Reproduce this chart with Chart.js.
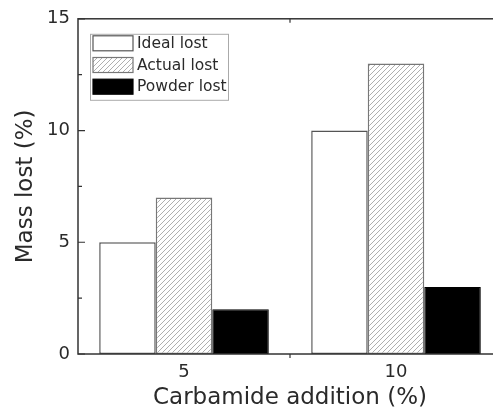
<!DOCTYPE html>
<html>
<head>
<meta charset="utf-8">
<script src="https://cdn.jsdelivr.net/npm/chart.js@4"></script>
<style>
html,body{margin:0;padding:0;background:#fff;overflow:hidden;width:493px;height:412px;}
canvas{display:block;}
</style>
</head>
<body>
<canvas id="c" width="506" height="412"></canvas>
<script>
const categories = ["5", "10"];
const idealLost = [5, 10];
const actualLost = [7, 13];
const powderLost = [2, 3];
const seriesNames = ["Ideal lost", "Actual lost", "Powder lost"];
const yMin = 0, yMax = 15, yStep = 2.5, yLabelStep = 5;
const xTitle = "Carbamide addition (%)";
const yTitle = "Mass lost (%)";

const FONT = "'DejaVu Sans', sans-serif";
const TEXT = '#2a2a2a';

function hatch() {
  const p = 5;
  const c = document.createElement('canvas');
  c.width = p; c.height = p;
  const g = c.getContext('2d');
  g.fillStyle = '#fff'; g.fillRect(0, 0, p, p);
  g.strokeStyle = '#a0a0a0'; g.lineWidth = 0.85;
  g.beginPath();
  g.moveTo(-1, p + 1); g.lineTo(p + 1, -1);
  g.moveTo(-1, 1); g.lineTo(1, -1);
  g.moveTo(p - 1, p + 1); g.lineTo(p + 1, p - 1);
  g.stroke();
  return g.createPattern(c, 'repeat');
}
const hatchPattern = hatch();

const framePlugin = {
  id: 'frame',
  afterDatasetsDraw(chart) {
    const {ctx, chartArea: a, scales: {x, y}} = chart;
    ctx.save();
    ctx.strokeStyle = '#333';
    ctx.lineWidth = 1.5;
    ctx.strokeRect(a.left, a.top, a.right - a.left, a.bottom - a.top);
    ctx.lineWidth = 1.2;
    ctx.beginPath();
    y.ticks.forEach(t => {
      const py = y.getPixelForValue(t.value);
      const len = (Math.abs(t.value % yLabelStep) < 1e-9) ? 7 : 4;
      ctx.moveTo(a.left, py); ctx.lineTo(a.left + len, py);
      ctx.moveTo(a.right, py); ctx.lineTo(a.right - len, py);
    });
    for (let i = 0; i < categories.length - 1; i++) {
      const px = (x.getPixelForTick(i) + x.getPixelForTick(i + 1)) / 2;
      ctx.moveTo(px, a.bottom); ctx.lineTo(px, a.bottom + 4);
      ctx.moveTo(px, a.top); ctx.lineTo(px, a.top + 4);
    }
    ctx.stroke();
    ctx.restore();
  },
  afterDraw(chart) {
    const {ctx, chartArea: a} = chart;
    const bx = a.left + 12, by = a.top + 15, bw = 138, bh = 66;
    ctx.save();
    ctx.fillStyle = '#fff';
    ctx.fillRect(bx, by, bw, bh);
    ctx.strokeStyle = '#aaa';
    ctx.lineWidth = 1;
    ctx.strokeRect(bx + 0.5, by + 0.5, bw, bh);
    chart.data.datasets.forEach((ds, i) => {
      const sy = by + 2 + i * 21.7;
      ctx.fillStyle = ds.backgroundColor;
      ctx.fillRect(bx + 3, sy, 40, 15);
      ctx.strokeStyle = ds.borderColor;
      ctx.lineWidth = 1.2;
      ctx.strokeRect(bx + 3, sy, 40, 15);
      ctx.fillStyle = TEXT;
      ctx.font = '15.5px ' + FONT;
      ctx.textBaseline = 'middle';
      ctx.textAlign = 'left';
      ctx.fillText(ds.label, bx + 47, sy + 8);
    });
    ctx.restore();
  }
};

new Chart(document.getElementById('c'), {
  type: 'bar',
  data: {
    labels: categories,
    datasets: [
      {label: seriesNames[0], data: idealLost, backgroundColor: '#ffffff', borderColor: '#555', borderWidth: 1.5},
      {label: seriesNames[1], data: actualLost, backgroundColor: hatchPattern, borderColor: '#777', borderWidth: 1.5},
      {label: seriesNames[2], data: powderLost, backgroundColor: '#000000', borderColor: '#000', borderWidth: 1}
    ]
  },
  options: {
    responsive: false,
    animation: false,
    events: [],
    layout: {padding: {top: 18, right: 4, left: 0, bottom: 0}},
    datasets: {bar: {categoryPercentage: 0.8, barPercentage: 1.0, borderSkipped: false}},
    plugins: {legend: {display: false}, tooltip: {enabled: false}},
    scales: {
      x: {
        grid: {display: false, drawTicks: false},
        border: {display: false},
        ticks: {color: TEXT, font: {family: FONT, size: 18}, padding: 8},
        title: {display: true, text: xTitle, color: TEXT, font: {family: FONT, size: 23}, padding: {top: 0, bottom: 0}},
        afterFit(s) { s.height = 58; }
      },
      y: {
        min: yMin, max: yMax,
        grid: {display: false, drawTicks: false},
        border: {display: false},
        ticks: {
          stepSize: yStep,
          autoSkip: false,
          color: TEXT,
          font: {family: FONT, size: 18},
          padding: 8,
          callback: v => (Math.abs(v % yLabelStep) < 1e-9 ? String(v) : '')
        },
        title: {display: true, text: yTitle, color: TEXT, font: {family: FONT, size: 23}, padding: {top: 12, bottom: 0}},
        afterFit(s) { s.width = 78; }
      }
    }
  },
  plugins: [framePlugin]
});
</script>
</body>
</html>
